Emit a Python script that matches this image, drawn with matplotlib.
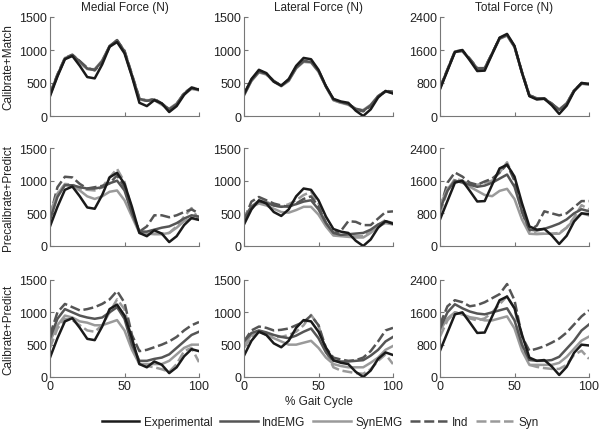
import numpy as np
import matplotlib
matplotlib.use("Agg")
import matplotlib.pyplot as plt

plt.rcParams['font.family'] = ['Liberation Sans', 'DejaVu Sans']

# % gait cycle sample points
gait = np.arange(0, 101, 5)

col_titles = ["Medial Force (N)", "Lateral Force (N)", "Total Force (N)"]
row_titles = ["Calibrate+Match", "Precalibrate+Predict", "Calibrate+Predict"]
series_names = ["Experimental", "IndEMG", "SynEMG", "Ind", "Syn"]
ymax = [1500, 1500, 2400]
yticks = [[0, 500, 1000, 1500], [0, 500, 1000, 1500], [0, 800, 1600, 2400]]

# experimental forces (same in every row)
exp_medial = [300, 600, 860, 910, 760, 590, 570, 780, 1050, 1120, 950, 600, 200, 150, 240, 190, 60, 150, 320, 430, 400]
exp_lateral = [330, 560, 700, 650, 520, 460, 560, 760, 880, 860, 700, 450, 260, 220, 200, 80, 0, 100, 280, 380, 340]
exp_total = [650, 1100, 1550, 1600, 1350, 1090, 1100, 1500, 1900, 1990, 1700, 1050, 480, 400, 420, 260, 50, 250, 600, 800, 780]

# Calibrate+Match
cm_medial = {
    "IndEMG": [330, 620, 870, 920, 830, 720, 700, 830, 1060, 1150, 980, 620, 260, 230, 250, 190, 100, 180, 340, 420, 400],
    "SynEMG": [320, 610, 880, 910, 810, 710, 710, 840, 1060, 1140, 970, 610, 250, 240, 240, 170, 110, 190, 330, 410, 390],
    "Ind": [340, 630, 880, 930, 830, 730, 690, 820, 1050, 1140, 990, 630, 270, 230, 260, 190, 100, 170, 350, 430, 410],
    "Syn": [320, 610, 870, 920, 820, 710, 700, 830, 1050, 1150, 970, 610, 250, 230, 250, 180, 100, 190, 340, 420, 390],
}
cm_lateral = {
    "IndEMG": [320, 540, 670, 640, 530, 460, 540, 730, 830, 820, 680, 450, 250, 210, 180, 110, 80, 160, 300, 370, 360],
    "SynEMG": [310, 530, 660, 630, 520, 450, 530, 720, 820, 810, 670, 440, 240, 200, 170, 100, 90, 170, 300, 370, 350],
    "Ind": [330, 550, 680, 640, 530, 460, 550, 740, 840, 830, 690, 450, 250, 210, 180, 100, 70, 150, 300, 380, 370],
    "Syn": [320, 540, 670, 630, 520, 460, 540, 730, 830, 820, 680, 450, 240, 200, 180, 110, 80, 160, 300, 370, 350],
}
cm_total = {
    "IndEMG": [680, 1120, 1560, 1580, 1380, 1150, 1160, 1520, 1880, 1960, 1680, 1060, 500, 430, 420, 300, 150, 300, 620, 790, 770],
    "SynEMG": [670, 1110, 1550, 1570, 1370, 1140, 1150, 1510, 1870, 1950, 1670, 1050, 490, 420, 410, 290, 160, 310, 610, 780, 760],
    "Ind": [690, 1130, 1570, 1590, 1390, 1160, 1160, 1520, 1890, 1970, 1690, 1070, 500, 430, 430, 300, 140, 290, 620, 800, 780],
    "Syn": [670, 1110, 1550, 1580, 1370, 1150, 1150, 1510, 1880, 1960, 1680, 1050, 490, 420, 420, 290, 150, 300, 610, 790, 770],
}

# Precalibrate+Predict
pp_medial = {
    "IndEMG": [400, 750, 930, 930, 900, 880, 880, 900, 960, 1000, 850, 500, 220, 220, 250, 280, 300, 350, 420, 470, 450],
    "SynEMG": [500, 800, 940, 920, 850, 760, 720, 760, 830, 850, 700, 450, 200, 190, 180, 180, 200, 280, 380, 420, 400],
    "Ind": [450, 900, 1060, 1050, 950, 880, 900, 920, 960, 1080, 900, 500, 220, 300, 470, 470, 440, 470, 520, 560, 500],
    "Syn": [500, 800, 950, 940, 880, 860, 850, 900, 1050, 1180, 980, 550, 200, 180, 190, 190, 200, 300, 450, 580, 400],
}
pp_lateral = {
    "IndEMG": [420, 600, 680, 660, 620, 600, 610, 640, 680, 700, 560, 350, 200, 170, 180, 190, 200, 250, 330, 380, 350],
    "SynEMG": [450, 600, 650, 620, 570, 520, 510, 550, 600, 600, 480, 300, 160, 150, 140, 130, 130, 200, 300, 350, 330],
    "Ind": [400, 680, 750, 700, 650, 620, 600, 650, 720, 760, 600, 350, 200, 230, 380, 370, 320, 320, 420, 520, 530],
    "Syn": [380, 600, 700, 680, 620, 600, 640, 700, 780, 830, 650, 350, 180, 160, 150, 150, 150, 230, 320, 400, 330],
}
pp_total = {
    "IndEMG": [900, 1350, 1600, 1560, 1500, 1450, 1480, 1550, 1650, 1750, 1450, 850, 400, 380, 420, 480, 550, 650, 800, 900, 850],
    "SynEMG": [1000, 1400, 1600, 1550, 1450, 1350, 1250, 1220, 1350, 1400, 1150, 650, 300, 290, 300, 300, 300, 450, 650, 800, 750],
    "Ind": [900, 1550, 1800, 1700, 1550, 1500, 1580, 1650, 1800, 2000, 1600, 850, 380, 500, 850, 800, 750, 800, 950, 1100, 1100],
    "Syn": [800, 1350, 1650, 1600, 1500, 1500, 1550, 1600, 1800, 2050, 1650, 850, 350, 300, 300, 300, 320, 450, 700, 1000, 900],
}

# Calibrate+Predict
cp_medial = {
    "IndEMG": [600, 900, 1050, 1000, 950, 920, 900, 920, 1000, 1080, 900, 500, 250, 250, 280, 300, 350, 450, 550, 650, 700],
    "SynEMG": [550, 800, 950, 920, 860, 840, 800, 800, 840, 880, 720, 420, 200, 200, 200, 200, 250, 350, 450, 500, 500],
    "Ind": [650, 1000, 1130, 1080, 1030, 1050, 1080, 1130, 1200, 1330, 1150, 650, 400, 420, 460, 500, 550, 620, 720, 800, 850],
    "Syn": [450, 750, 900, 880, 800, 720, 700, 800, 1000, 1200, 1050, 550, 200, 170, 150, 120, 80, 200, 400, 450, 230],
}
cp_lateral = {
    "IndEMG": [550, 680, 720, 690, 650, 620, 600, 640, 700, 750, 600, 380, 250, 240, 240, 250, 260, 330, 420, 550, 620],
    "SynEMG": [500, 650, 700, 650, 600, 550, 500, 500, 530, 560, 450, 300, 200, 170, 150, 150, 150, 220, 300, 420, 480],
    "Ind": [550, 720, 780, 760, 720, 730, 750, 800, 850, 950, 800, 450, 300, 270, 250, 260, 300, 400, 550, 720, 760],
    "Syn": [450, 620, 700, 660, 620, 620, 650, 700, 800, 960, 800, 400, 150, 100, 80, 60, 50, 120, 250, 350, 200],
}
cp_total = {
    "IndEMG": [1200, 1600, 1800, 1700, 1620, 1570, 1550, 1600, 1650, 1700, 1400, 800, 420, 400, 400, 420, 500, 700, 900, 1150, 1300],
    "SynEMG": [1150, 1450, 1600, 1550, 1480, 1450, 1400, 1400, 1450, 1500, 1200, 650, 300, 300, 300, 300, 350, 500, 700, 900, 1000],
    "Ind": [1300, 1750, 1900, 1850, 1750, 1780, 1850, 1950, 2050, 2300, 1900, 1000, 650, 700, 760, 850, 950, 1100, 1300, 1500, 1650],
    "Syn": [1000, 1400, 1600, 1550, 1450, 1400, 1450, 1600, 1800, 2000, 1700, 800, 300, 250, 220, 200, 200, 300, 550, 650, 450],
}

exp_data = [exp_medial, exp_lateral, exp_total]
pred_data = [
    [cm_medial, cm_lateral, cm_total],
    [pp_medial, pp_lateral, pp_total],
    [cp_medial, cp_lateral, cp_total],
]

styles = {
    "Experimental": dict(color="#1a1a1a", ls="-"),
    "IndEMG": dict(color="#555555", ls="-"),
    "SynEMG": dict(color="#9a9a9a", ls="-"),
    "Ind": dict(color="#555555", ls=(0, (4, 1.5))),
    "Syn": dict(color="#9a9a9a", ls=(0, (4, 1.5))),
}

fig = plt.figure(figsize=(6, 4.35), dpi=100)
W, H = 600.0, 435.0
lefts = [50, 244, 440]
tops = [18, 149, 281]
bottoms = [117, 247, 378]
ax_w = 149
fs = 8.5

handles = []
for r in range(3):
    for c in range(3):
        ax = fig.add_axes([lefts[c] / W, 1 - bottoms[r] / H, ax_w / W, (bottoms[r] - tops[r]) / H])
        order = ["Syn", "Ind", "SynEMG", "IndEMG"]
        for name in order:
            ax.plot(gait, pred_data[r][c][name], lw=1.8, label=name, **styles[name])
        ax.plot(gait, exp_data[c], lw=1.8, label="Experimental", **styles["Experimental"])
        ax.set_xlim(0, 100)
        ax.set_ylim(0, ymax[c])
        ax.set_xticks([0, 50, 100])
        ax.set_yticks(yticks[c])
        ax.spines['top'].set_visible(False)
        ax.spines['right'].set_visible(False)
        for s in ['left', 'bottom']:
            ax.spines[s].set_color('#777777')
            ax.spines[s].set_linewidth(0.8)
        ax.tick_params(direction='in', length=3, width=0.8, color='#777777',
                       labelsize=9, labelcolor='#222222', pad=2)
        if r < 2:
            ax.set_xticklabels([])
        if r == 0:
            ax.set_title(col_titles[c], fontsize=fs, color='#222222', pad=5)
        if r == 2 and c == 1:
            ax.set_xlabel("% Gait Cycle", fontsize=fs, color='#222222', labelpad=2)
        if r == 0 and c == 0:
            hd, lb = ax.get_legend_handles_labels()
            handles = dict(zip(lb, hd))
    fig.text(8 / W, 1 - (tops[r] + bottoms[r]) / 2 / H, row_titles[r], rotation=90,
             ha='center', va='center', fontsize=fs, color='#222222')

fig.legend([handles[n] for n in series_names], series_names, loc='center',
           bbox_to_anchor=(320 / W, 1 - 423 / H), ncol=5, frameon=False,
           fontsize=fs, handlelength=3.2, handletextpad=0.4, columnspacing=0.6,
           labelcolor='#222222')

fig.savefig("out.png", dpi=100)
